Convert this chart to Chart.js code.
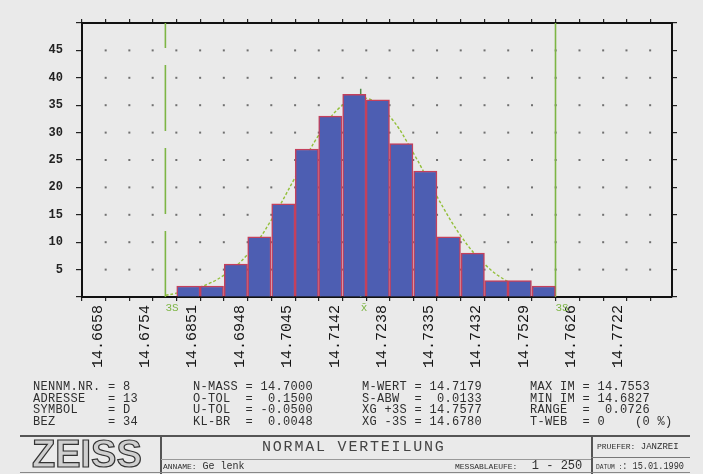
<!DOCTYPE html>
<html>
<head>
<meta charset="utf-8">
<script src="https://cdn.jsdelivr.net/npm/chart.js@4.4.0/dist/chart.umd.min.js"></script>
<style>
    body { margin: 0; background: #eaeaea; }
    #wrap { position: relative; width: 703px; height: 474px; overflow: hidden; background: #eaeaea; }
    #ourChart { position: absolute; left: 0; top: 0; }
    .txt { position: absolute; font-family: "Liberation Mono", monospace; color: #2f2f2f; white-space: pre; }
    .stat { font-size: 12px; line-height: 11.6px; letter-spacing: 0.3px; top: 382px; }
    .ln { position: absolute; background: #555; }
    .small { font-size: 8px; letter-spacing: 0; }
</style>
</head>
<body>
<div id="wrap">
    <canvas id="ourChart" width="703" height="474"></canvas>

    <div class="txt stat" style="left:33px;">NENNM.NR. = 8
ADRESSE   = 13
SYMBOL    = D
BEZ       = 34</div>
    <div class="txt stat" style="left:193px;">N-MASS = 14.7000
O-TOL  =  0.1500
U-TOL  = -0.0500
KL-BR  =  0.0048</div>
    <div class="txt stat" style="left:362px;">M-WERT = 14.7179
S-ABW  =  0.0133
XG +3S = 14.7577
XG -3S = 14.6780</div>
    <div class="txt stat" style="left:530px;">MAX IM = 14.7553
MIN IM = 14.6827
RANGE  =  0.0726
T-WEB  = 0    (0 %)</div>

    <div class="ln" style="left:20px;top:435px;width:670px;height:1.5px;"></div>
    <div class="ln" style="left:160px;top:436px;width:1.5px;height:38px;"></div>
    <div class="ln" style="left:591px;top:436px;width:1.5px;height:38px;"></div>
    <div class="ln" style="left:591px;top:457px;width:99px;height:1px;background:#777;"></div>
    <div class="ln" style="left:161px;top:459px;width:430px;height:1px;background:#999;"></div>
    <div class="ln" style="left:20px;top:472px;width:670px;height:1px;background:#888;"></div>

    <div class="txt" style="left:32px;top:432px;font-family:'Liberation Sans',sans-serif;font-weight:bold;font-size:38px;line-height:44px;color:#cfcfcf;-webkit-text-stroke:1.2px #333;">ZEISS</div>
    <div class="txt" style="left:262px;top:439px;font-size:15px;letter-spacing:1.8px;color:#444;">NORMAL VERTEILUNG</div>
    <div class="txt" style="left:163px;top:461px;font-size:10px;"><span class="small">ANNAME:</span> Ge lenk</div>
    <div class="txt" style="left:455px;top:459px;font-size:12px;"><span class="small">MESSABLAEUFE:</span>  1 - 250</div>
    <div class="txt" style="left:597px;top:442px;font-size:9px;"><span class="small">PRUEFER:</span> JANZREI</div>
    <div class="txt" style="left:596px;top:460px;font-size:11px;transform:scaleX(0.78);transform-origin:0 0;"><span class="small">DATUM :</span>: 15.01.1990</div>
</div>

<script>
// Klassenmitten und Haeufigkeiten (16 Klassen)
const binCenters = [14.6827, 14.6875, 14.6924, 14.6972, 14.7021, 14.7069, 14.7117, 14.7166,
                    14.7214, 14.7262, 14.7311, 14.7359, 14.7408, 14.7456, 14.7504, 14.7553];
const counts = [2, 2, 6, 11, 17, 27, 33, 37, 36, 28, 23, 11, 8, 3, 3, 2];

// Normalverteilungskurve
const curveX = [14.6780, 14.6803, 14.6851, 14.6900, 14.6948, 14.6996, 14.7045, 14.7093, 14.7142,
                14.7190, 14.7238, 14.7287, 14.7335, 14.7384, 14.7432, 14.7480, 14.7529, 14.7577];
const curveY = [0.3, 0.7, 1.8, 4.0, 7.8, 14.0, 21.8, 29.5, 35.0, 36.3, 33.0, 26.2, 18.3, 11.1, 6.0, 2.8, 1.1, 0.4];

const xTickLabels = ['14.6658', '14.6754', '14.6851', '14.6948', '14.7045', '14.7142',
                     '14.7238', '14.7335', '14.7432', '14.7529', '14.7626', '14.7722'];
const yTickValues = [0, 5, 10, 15, 20, 25, 30, 35, 40, 45, 50];

const xgMinus = 14.6780;
const xMean = 14.7179;
const xgPlus = 14.7577;
const markLabels = ['3S', 'x\u0304', '3S'];

// Achsenteilung: beschriftete Striche plus Zwischenstriche
const labelValues = xTickLabels.map(Number);
const halfStep = (labelValues[labelValues.length - 1] - labelValues[0]) / (labelValues.length - 1) / 2;
const xMin = labelValues[0] - halfStep;
const xMax = 14.7815;
let xTicks = [xMin];
labelValues.forEach(v => {
    xTicks.push(v);
    xTicks.push(v + halfStep);
});
xTicks = xTicks.filter(v => v <= xMax);

function setXTicks(scale) {
    scale.ticks = xTicks.map(v => ({ value: v }));
}

const dotGrid = {
    id: 'dotGrid',
    beforeDatasetsDraw(chart) {
        const { ctx, scales: { x, y } } = chart;
        ctx.save();
        ctx.fillStyle = '#707070';
        x.ticks.forEach(t => {
            if (t.value <= x.min + 1e-6 || t.value >= x.max) return;
            const px = x.getPixelForValue(t.value);
            y.ticks.forEach(u => {
                if (u.value <= 0 || u.value >= 50) return;
                ctx.fillRect(px - 1, y.getPixelForValue(u.value) - 1, 2, 2);
            });
        });
        ctx.restore();
    }
};

const ourCanvas = document.getElementById('ourChart');
const chartElement = new Chart(ourCanvas, {
    type: 'bar',
    data: {
        datasets: [
            {
                type: 'bar',
                data: binCenters.map((c, i) => ({ x: c, y: counts[i] })),
                backgroundColor: '#4d5eb2',
                borderColor: '#c4405c',
                borderWidth: 1.5,
                barPercentage: 1.0,
                categoryPercentage: 1.0
            },
            {
                type: 'line',
                data: curveX.map((c, i) => ({ x: c, y: curveY[i] })),
                borderColor: '#93bf3a',
                borderWidth: 1.4,
                borderDash: [3, 2],
                tension: 0.4,
                pointRadius: 0
            },
            {
                type: 'line',
                data: [{ x: xgMinus, y: 0 }, { x: xgMinus, y: 50 }],
                borderColor: '#7db544',
                borderWidth: 1.6,
                borderDash: [66, 17],
                pointRadius: 0
            },
            {
                type: 'line',
                data: [{ x: xgPlus, y: 0 }, { x: xgPlus, y: 50 }],
                borderColor: '#7db544',
                borderWidth: 1.6,
                pointRadius: 0
            },
            {
                type: 'line',
                data: [{ x: xMean, y: 0 }, { x: xMean, y: 38 }],
                borderColor: '#4f8a46',
                borderWidth: 1.5,
                pointRadius: 0
            }
        ]
    },
    options: {
        responsive: false,
        animation: { duration: 0 },
        layout: { padding: 0 },
        plugins: { legend: { display: false }, tooltip: { enabled: false } },
        scales: {
            x: {
                type: 'linear',
                position: 'bottom',
                offset: false,
                min: xMin,
                max: xMax,
                afterBuildTicks: setXTicks,
                afterFit: s => { s.height = 177; },
                ticks: {
                    autoSkip: false,
                    minRotation: 90,
                    maxRotation: 90,
                    padding: 4,
                    labelOffset: -8,
                    color: '#151515',
                    font: { family: 'Liberation Mono', size: 15 },
                    callback: v => {
                        const i = labelValues.findIndex(l => Math.abs(l - v) < 1e-6);
                        return i >= 0 ? xTickLabels[i] : '';
                    }
                },
                grid: { offset: false, drawOnChartArea: false, tickLength: 4, color: '#222', lineWidth: 1.2 },
                border: { color: '#111', width: 2 }
            },
            marks: {
                type: 'linear',
                position: 'bottom',
                offset: false,
                weight: -1,
                min: xMin,
                max: xMax,
                afterBuildTicks: s => { s.ticks = [xgMinus, xMean, xgPlus].map(v => ({ value: v })); },
                afterFit: s => {
                    s.height = 0;
                    // Beschriftung nicht auf die leere Achsenbox beschneiden
                    s._computeLabelArea = () => undefined;
                },
                ticks: {
                    autoSkip: false,
                    maxRotation: 0,
                    align: 'start',
                    padding: 4,
                    color: '#7db544',
                    font: { family: 'Liberation Mono', size: 11 },
                    callback: (v, i) => markLabels[i]
                },
                grid: { offset: false, display: false, drawTicks: false },
                border: { display: false }
            },
            xTop: {
                type: 'linear',
                position: 'top',
                offset: false,
                min: xMin,
                max: xMax,
                afterBuildTicks: setXTicks,
                afterFit: s => { s.height = 23; },
                ticks: { display: false },
                grid: { offset: false, drawOnChartArea: false, tickLength: 4, color: '#222', lineWidth: 1.2 },
                border: { color: '#111', width: 2 }
            },
            y: {
                type: 'linear',
                position: 'left',
                min: 0,
                max: 50,
                afterBuildTicks: s => { s.ticks = yTickValues.map(v => ({ value: v })); },
                afterFit: s => { s.width = 82; },
                ticks: {
                    padding: 13,
                    color: '#222',
                    font: { family: 'Liberation Mono', size: 12, weight: 'bold' },
                    callback: v => (v > 0 && v < 50) ? v : ''
                },
                grid: { drawOnChartArea: false, tickLength: 6, color: '#222', lineWidth: 1.2 },
                border: { color: '#111', width: 2 }
            },
            yRight: {
                type: 'linear',
                position: 'right',
                min: 0,
                max: 50,
                afterBuildTicks: s => { s.ticks = yTickValues.map(v => ({ value: v })); },
                afterFit: s => { s.width = 31; },
                ticks: { display: false },
                grid: { drawOnChartArea: false, tickLength: 5, color: '#222', lineWidth: 1.2 },
                border: { color: '#111', width: 2 }
            }
        }
    },
    plugins: [dotGrid]
});
</script>
</body>
</html>
